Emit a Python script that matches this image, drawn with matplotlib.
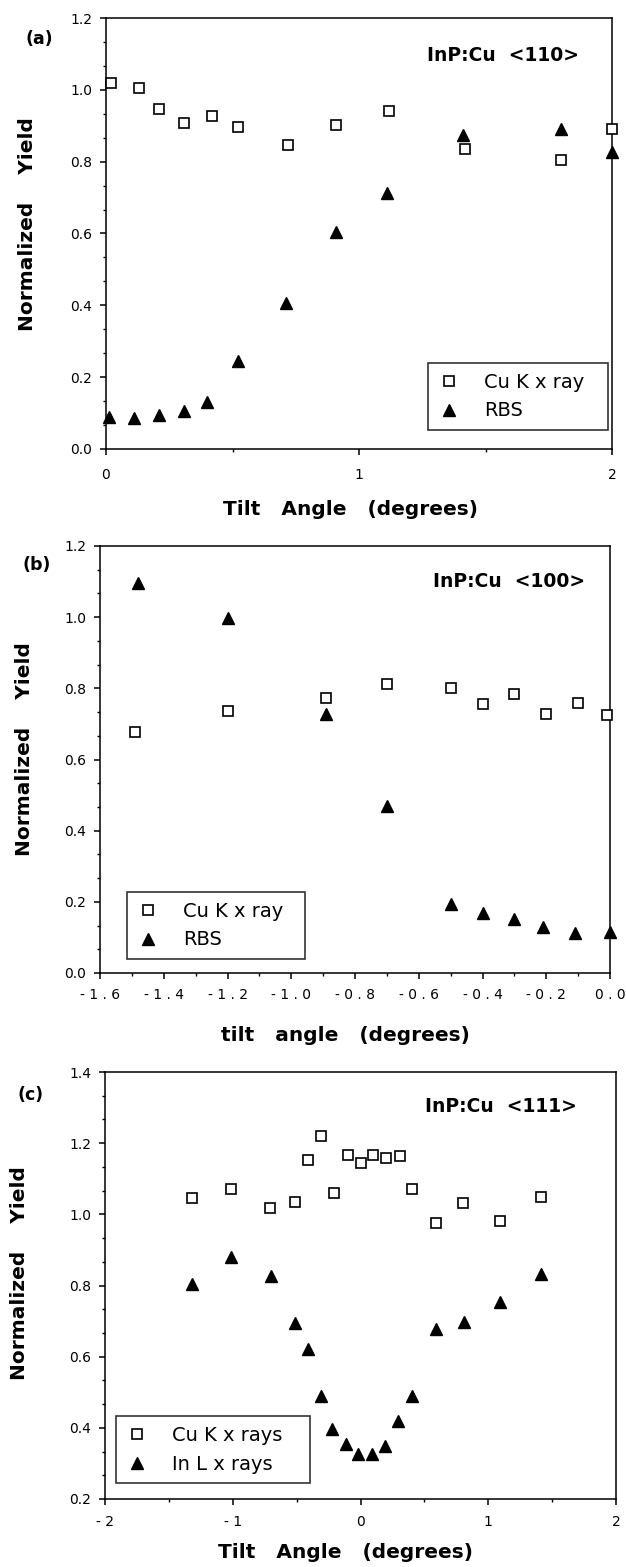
import numpy as np
import matplotlib
matplotlib.use("Agg")
import matplotlib.pyplot as plt
from matplotlib import rc
from matplotlib.ticker import MultipleLocator, AutoMinorLocator, FixedLocator, FixedFormatter

rc('font', family='DejaVu Sans', size=10)
rc('axes', linewidth=1.1, edgecolor='k')

# ---- data ----
# (a) InP:Cu <110>
cu_a_x = [0.02, 0.13, 0.21, 0.31, 0.42, 0.52, 0.72, 0.91, 1.12, 1.42, 1.80, 2.00]
cu_a_y = [1.020, 1.005, 0.947, 0.907, 0.927, 0.896, 0.847, 0.903, 0.941, 0.836, 0.804, 0.890]
rbs_a_x = [0.01, 0.11, 0.21, 0.31, 0.40, 0.52, 0.71, 0.91, 1.11, 1.41, 1.80, 2.00]
rbs_a_y = [0.088, 0.086, 0.095, 0.105, 0.132, 0.244, 0.406, 0.603, 0.714, 0.874, 0.892, 0.827]

# (b) InP:Cu <100>
cu_b_x = [-1.49, -1.20, -0.89, -0.70, -0.50, -0.40, -0.30, -0.20, -0.10, -0.01]
cu_b_y = [0.677, 0.735, 0.773, 0.811, 0.801, 0.757, 0.785, 0.727, 0.759, 0.726]
rbs_b_x = [-1.48, -1.20, -0.89, -0.70, -0.50, -0.40, -0.30, -0.21, -0.11, 0.00]
rbs_b_y = [1.097, 0.997, 0.727, 0.468, 0.194, 0.170, 0.152, 0.129, 0.112, 0.115]

# (c) InP:Cu <111>
cu_c_x = [-1.32, -1.01, -0.71, -0.51, -0.41, -0.31, -0.21, -0.10, 0.00, 0.10,
          0.20, 0.31, 0.40, 0.59, 0.80, 1.09, 1.41]
cu_c_y = [1.047, 1.071, 1.018, 1.036, 1.153, 1.220, 1.061, 1.168, 1.145, 1.167,
          1.158, 1.163, 1.071, 0.976, 1.031, 0.980, 1.050]
inl_c_x = [-1.32, -1.01, -0.70, -0.51, -0.41, -0.31, -0.22, -0.11, -0.02, 0.09,
           0.19, 0.29, 0.40, 0.59, 0.81, 1.09, 1.41]
inl_c_y = [0.805, 0.880, 0.828, 0.694, 0.622, 0.489, 0.397, 0.355, 0.327, 0.327,
           0.350, 0.418, 0.489, 0.678, 0.697, 0.755, 0.831]

# tick labels (spaced out like the original)
xticks_a = [0, 1, 2]
xlabels_a = ["0", "1", "2"]
xticks_b = [-1.6, -1.4, -1.2, -1.0, -0.8, -0.6, -0.4, -0.2, 0.0]
xlabels_b = ["- 1 . 6", "- 1 . 4", "- 1 . 2", "- 1 . 0", "- 0 . 8",
             "- 0 . 6", "- 0 . 4", "- 0 . 2", "0 . 0"]
xticks_c = [-2, -1, 0, 1, 2]
xlabels_c = ["- 2", "- 1", "0", "1", "2"]

W, H = 626, 1567
fig = plt.figure(figsize=(W / 100, H / 100), dpi=100)


def px_axes(left, right, top, bottom):
    # axes rectangle given in pixels of the figure
    return fig.add_axes([left / W, 1 - bottom / H, (right - left) / W, (bottom - top) / H])


bold = dict(family='DejaVu Sans', weight='bold')

panels = [
    dict(box=(106, 612, 18, 449), sq=(cu_a_x, cu_a_y), tri=(rbs_a_x, rbs_a_y),
         labels=("Cu K x ray", "RBS"), xlim=(0, 2), ylim=(0, 1.2),
         xticks=xticks_a, xlabels=xlabels_a, xminor=0.5, xpad=9,
         xlabel="Tilt   Angle   (degrees)", xl=(0.484, -0.1415),
         yl=(-0.156, 0.522), title="InP:Cu  <110>", tpos=(0.935, 0.914),
         leg=(0.636, 0.1995, 0.356), tag="(a)", tagpos=(39, 39), tagw='bold'),
    dict(box=(100, 610, 546, 973), sq=(cu_b_x, cu_b_y), tri=(rbs_b_x, rbs_b_y),
         labels=("Cu K x ray", "RBS"), xlim=(-1.6, 0.0), ylim=(0, 1.2),
         xticks=xticks_b, xlabels=xlabels_b, xminor=0.1, xpad=6,
         xlabel="tilt   angle   (degrees)", xl=(0.482, -0.1475),
         yl=(-0.149, 0.525), title="InP:Cu  <100>", tpos=(0.951, 0.916),
         leg=(0.053, 0.19, 0.349), tag="(b)", tagpos=(37, 565), tagw='bold'),
    dict(box=(105, 616, 1072, 1499), sq=(cu_c_x, cu_c_y), tri=(inl_c_x, inl_c_y),
         labels=("Cu K x rays", "In L x rays"), xlim=(-2, 2), ylim=(0.2, 1.4),
         xticks=xticks_c, xlabels=xlabels_c, xminor=0.5, xpad=7,
         xlabel="Tilt   Angle   (degrees)", xl=(0.471, -0.126),
         yl=(-0.168, 0.529), title="InP:Cu  <111>", tpos=(0.924, 0.920),
         leg=(0.0215, 0.194, 0.380), tag="(c)", tagpos=(31, 1095), tagw='bold'),
]

for p in panels:
    ax = px_axes(*p['box'])
    ax.plot(p['sq'][0], p['sq'][1], ls='none', marker='s', ms=7.3, mfc='white',
            mec='k', mew=1.2, clip_on=False, zorder=3, label=p['labels'][0])
    ax.plot(p['tri'][0], p['tri'][1], ls='none', marker='^', ms=8.5, mfc='k',
            mec='k', clip_on=False, zorder=3, label=p['labels'][1])

    ax.set_xlim(*p['xlim'])
    ax.set_ylim(*p['ylim'])
    ax.xaxis.set_major_locator(FixedLocator(p['xticks']))
    ax.xaxis.set_major_formatter(FixedFormatter(p['xlabels']))
    ax.xaxis.set_minor_locator(MultipleLocator(p['xminor']))
    ax.yaxis.set_major_locator(MultipleLocator(0.2))
    ax.yaxis.set_minor_locator(AutoMinorLocator(3))
    ax.yaxis.set_major_formatter(plt.FuncFormatter(lambda v, pos: "%.1f" % v))
    ax.tick_params(which='major', direction='out', length=4.5, width=1.1)
    ax.tick_params(which='minor', direction='out', length=2.5, width=1.0)
    ax.tick_params(axis='x', which='major', pad=p['xpad'])
    ax.tick_params(axis='y', which='major', pad=5.5)

    ax.set_xlabel(p['xlabel'], fontsize=14.5, va='center', **bold)
    ax.xaxis.set_label_coords(*p['xl'])
    ax.set_ylabel("Normalized    Yield", fontsize=14.5, va='center', **bold)
    ax.yaxis.set_label_coords(*p['yl'])

    ax.text(p['tpos'][0], p['tpos'][1], p['title'], transform=ax.transAxes,
            ha='right', va='center', fontsize=13.5, **bold)
    fig.text(p['tagpos'][0] / W, 1 - p['tagpos'][1] / H, p['tag'], ha='center',
             va='center', fontsize=12.5, family='DejaVu Sans', weight=p['tagw'])

    lx, ly, lw = p['leg']
    leg = ax.legend(loc='upper left', bbox_to_anchor=(lx, ly - 0.2, lw, 0.2),
                    mode='expand', borderaxespad=0, fontsize=14, frameon=True,
                    fancybox=False, handlelength=1.2, handletextpad=1.18,
                    borderpad=0.5, labelspacing=0.5)
    leg.get_frame().set_edgecolor('k')
    leg.get_frame().set_linewidth(1.2)

plt.savefig("out.png", dpi=100)
